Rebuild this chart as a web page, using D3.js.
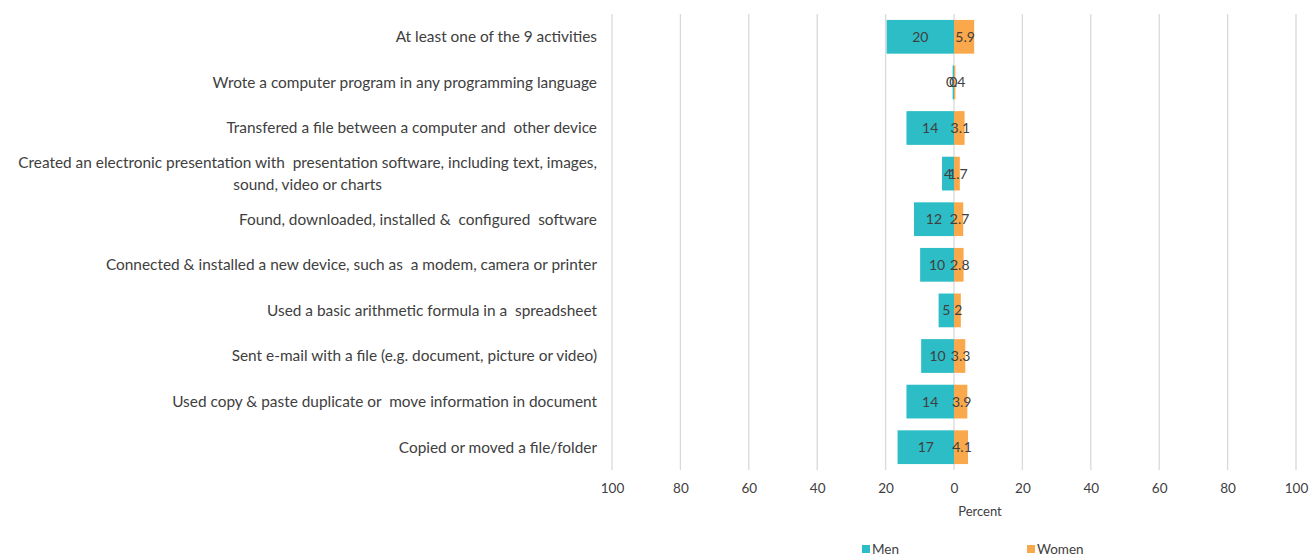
<!DOCTYPE html>
<html>
<head>
<meta charset="utf-8">
<script src="https://cdn.jsdelivr.net/npm/d3@7"></script>
<style>
  html, body { margin: 0; padding: 0; background: #fff; }
  svg { display: block; font-family: Lato, "Open Sans", sans-serif; }
  svg text { white-space: pre; }
</style>
</head>
<body>
<svg id="chart" width="1309" height="556"></svg>
<script>
// Activities (top to bottom)
const categories = [
  "At least one of the 9 activities",
  "Wrote a computer program in any programming language",
  "Transfered a file between a computer and  other device",
  "Created an electronic presentation with  presentation software, including text, images,|sound, video or charts",
  "Found, downloaded, installed &  configured  software",
  "Connected & installed a new device, such as  a modem, camera or printer",
  "Used a basic arithmetic formula in a  spreadsheet",
  "Sent e-mail with a file (e.g. document, picture or video)",
  "Used copy & paste duplicate or  move information in document",
  "Copied or moved a file/folder"
];
// Percent of men / women
const menValues   = [19.7, 0.4, 13.9, 3.5, 11.7, 9.9, 4.5, 9.6, 13.9, 16.5];
const womenValues = [5.9, 0.4, 3.1, 1.7, 2.7, 2.8, 2, 3.3, 3.9, 4.1];
const tickValues  = [-100, -80, -60, -40, -20, 0, 20, 40, 60, 80, 100];
const seriesNames = ["Men", "Women"];

const colors = { Men: "#2DBDC6", Women: "#F9A94B" };
const textColor = "#404040";

const svg = d3.select("#chart");

const x = d3.scaleLinear().domain([-100, 100]).range([612, 1296]);
const y = d3.scaleBand().domain(d3.range(categories.length)).range([14, 470]).paddingInner(0.26).paddingOuter(0.13);

// Vertical gridlines
svg.append("g").selectAll("line").data(tickValues).join("line")
  .attr("x1", d => x(d)).attr("x2", d => x(d))
  .attr("y1", 14).attr("y2", 470)
  .attr("stroke", "#D9D9D9").attr("stroke-width", 1.3);

// Tick labels (absolute values on both sides)
const axis = d3.axisBottom(x).tickValues(tickValues).tickSize(0).tickFormat(d => Math.abs(d));
const ax = svg.append("g").attr("transform", "translate(0,480)").call(axis);
ax.select(".domain").remove();
ax.selectAll("text").attr("fill", textColor).attr("font-size", 13.5).attr("font-family", "Lato, sans-serif");

// Axis title
svg.append("text").attr("x", x(0) + 26).attr("y", 516).attr("text-anchor", "middle")
  .attr("fill", textColor).attr("font-size", 13).text("Percent");

// Bars
const rows = categories.map((c, i) => ({ i, men: menValues[i], women: womenValues[i] }));
const bh = y.bandwidth();

svg.append("g").selectAll("rect").data(rows).join("rect")
  .attr("x", d => x(-d.men)).attr("width", d => x(0) - x(-d.men))
  .attr("y", d => y(d.i)).attr("height", bh)
  .attr("fill", colors.Men);

svg.append("g").selectAll("rect").data(rows).join("rect")
  .attr("x", x(0)).attr("width", d => x(d.women) - x(0))
  .attr("y", d => y(d.i)).attr("height", bh)
  .attr("fill", colors.Women);

// Value labels
const fmtMen = d3.format(".0f");
const fmtWomen = v => (Number.isInteger(v) ? String(v) : d3.format(".1f")(v));

svg.append("g").selectAll("text").data(rows).join("text")
  .attr("x", d => (x(-d.men) + x(0)) / 2)
  .attr("y", d => y(d.i) + bh / 2)
  .attr("dy", "0.35em").attr("text-anchor", "middle")
  .attr("fill", textColor).attr("font-size", 14)
  .text(d => fmtMen(d.men));

svg.append("g").selectAll("text").data(rows).join("text")
  .attr("x", d => (x(d.women) + x(0)) / 2 + 1)
  .attr("y", d => y(d.i) + bh / 2)
  .attr("dy", "0.35em").attr("text-anchor", "middle")
  .attr("fill", textColor).attr("font-size", 14)
  .text(d => fmtWomen(d.women));

// Category labels: each block right-aligned, lines centred within the block
const labelRight = 597;
const lg = svg.append("g");
categories.forEach((c, i) => {
  const lines = c.split("|");
  const cy = y(i) + bh / 2;
  const g = lg.append("g");
  const texts = lines.map((ln, k) => g.append("text")
    .attr("y", cy + (k - (lines.length - 1) / 2) * 22)
    .attr("dy", "0.35em")
    .attr("fill", textColor).attr("font-size", 15.4)
    .text(ln));
  const widths = texts.map(t => t.node().getComputedTextLength());
  const maxW = d3.max(widths);
  const center = labelRight - maxW / 2;
  texts.forEach(t => t.attr("x", center).attr("text-anchor", "middle"));
});

// Legend
const legendX = [862, 1027];
seriesNames.forEach((s, k) => {
  const g = svg.append("g").attr("transform", `translate(${legendX[k]},549)`);
  g.append("rect").attr("x", 0).attr("y", -4).attr("width", 8).attr("height", 8).attr("fill", colors[s]);
  g.append("text").attr("x", 10).attr("dy", "0.35em").attr("fill", textColor).attr("font-size", 13.5).text(s);
});
</script>
</body>
</html>
